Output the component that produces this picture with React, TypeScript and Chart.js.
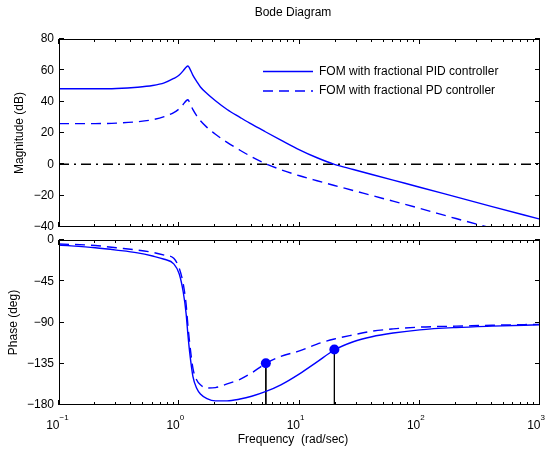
import React, { useEffect, useRef } from "react";
import { Chart, registerables } from "chart.js";

Chart.register(...registerables);

// ---------- data ----------
const freq = [0.1, 0.2, 0.3, 0.45, 0.6, 0.75, 0.9, 1.0, 1.08, 1.14, 1.18, 1.22, 1.3, 1.4, 1.5, 1.7, 2.0, 2.5, 3.2, 4, 5.2, 7, 10, 14, 19.5, 28, 40, 60, 100, 200, 400, 1000];
const pidMag = [48.2, 48.2, 48.4, 49.2, 50.3, 52.0, 54.8, 57.0, 59.8, 62.0, 62.8, 61.3, 56.8, 52.8, 49.4, 45.2, 40.6, 35.0, 30.0, 25.6, 20.8, 15.5, 9.3, 4.2, 0.0, -3.3, -6.5, -10.1, -14.6, -20.8, -27.0, -35.0];
const pdMag = [26.0, 26.0, 26.3, 27.2, 28.5, 30.5, 33.0, 35.5, 38.3, 40.5, 41.2, 39.5, 34.9, 30.9, 27.8, 23.6, 19.2, 14.0, 9.0, 4.8, 0.5, -3.4, -7.3, -10.5, -13.5, -16.7, -19.9, -23.5, -28.1, -34.6, -40.8, -49.0];
const pidPhase = [-5.5, -8.5, -11, -14, -17.5, -21, -26, -37, -57, -80, -103, -122, -149, -162, -168, -173, -175.5, -175.5, -173.5, -170.5, -165.5, -158, -146, -133, -120, -111, -105.5, -101.5, -98, -95.5, -94, -92.5];
const pdPhase = [-4.4, -6, -8.5, -11, -13.5, -16.5, -20, -31, -48, -70, -93, -112, -140, -153, -158, -161.5, -161, -157, -152, -145, -135, -127, -121, -113.5, -108, -103.5, -99.5, -97, -95, -94, -93, -92];

// gain crossover markers (PD, PID)
const crossFreq = [5.25, 19.5];
const crossPhase = [-134.5, -119.5];

const seriesLabels = ["FOM with fractional PID controller", "FOM with fractional PD controller"];
const magTicks = [-40, -20, 0, 20, 40, 60, 80];
const phaseTicks = [-180, -135, -90, -45, 0];
const decadeExps = [-1, 0, 1, 2, 3];
const freqRange = [0.1, 1000];
const magRefLevel = 0;
const phaseRefLevel = -180;

const chartTitle = "Bode Diagram";
const magTitle = "Magnitude (dB)";
const phaseTitle = "Phase (deg)";
const freqTitle = "Frequency  (rad/sec)";

// ---------- styles ----------
const FONT = '"Liberation Sans", Arial, Helvetica, sans-serif';
const BLUE = "#0000ff";
const DASH = [10, 6];
const DASHDOT = [10, 5, 2, 5];

const fmtTick = (v: number) => (v < 0 ? "\u2212" + Math.abs(v) : String(v));
const fmtExp = (e: number) => (e < 0 ? "\u2212" + Math.abs(e) : String(e));

function framePlugin(kind: "mag" | "phase") {
  return {
    id: "frame_" + kind,
    afterDatasetsDraw(chart: any) {
      const { ctx, chartArea } = chart;
      const { left, right, top, bottom } = chartArea;
      const xs = chart.scales.x;
      const ys = chart.scales.y;
      ctx.save();
      ctx.strokeStyle = "#000";
      ctx.lineWidth = 1;
      ctx.setLineDash([]);
      ctx.beginPath();
      // x ticks (major + minor), inward, top and bottom
      for (let i = 0; i < decadeExps.length; i++) {
        const base = Math.pow(10, decadeExps[i]);
        for (let j = 1; j <= 9; j++) {
          const v = base * j;
          if (v > freqRange[1] * 1.0001) break;
          const px = Math.round(xs.getPixelForValue(v)) - 0.5;
          const len = j === 1 ? 5 : 3;
          ctx.moveTo(px, top);
          ctx.lineTo(px, top + len);
          ctx.moveTo(px, bottom);
          ctx.lineTo(px, bottom - len);
        }
      }
      // y ticks inward, left and right
      ys.ticks.forEach((t: any) => {
        const py = Math.round(ys.getPixelForValue(t.value)) - 0.5;
        ctx.moveTo(left, py);
        ctx.lineTo(left + 5, py);
        ctx.moveTo(right, py);
        ctx.lineTo(right - 5, py);
      });
      ctx.stroke();
      ctx.strokeRect(Math.round(left) + 0.5, Math.round(top) + 0.5, Math.round(right - left) - 1, Math.round(bottom - top) - 1);

      ctx.fillStyle = "#000";
      if (kind === "mag") {
        // title
        ctx.font = `12px ${FONT}`;
        ctx.textAlign = "center";
        ctx.textBaseline = "middle";
        ctx.fillText(chartTitle, 293, 12.5);
        // legend
        const ds = chart.data.datasets;
        [0, 1].forEach((k) => {
          const d = ds[k];
          const y = top + 32.5 + k * 19.5;
          const x0 = left + 204;
          ctx.save();
          ctx.strokeStyle = d.borderColor;
          ctx.lineWidth = d.borderWidth;
          ctx.setLineDash(d.borderDash || []);
          ctx.beginPath();
          ctx.moveTo(x0, y);
          ctx.lineTo(x0 + 50, y);
          ctx.stroke();
          ctx.restore();
          ctx.font = `12px ${FONT}`;
          ctx.textAlign = "left";
          ctx.textBaseline = "middle";
          ctx.fillText(d.label, x0 + 56, y);
        });
      } else {
        // x tick labels 10^n
        decadeExps.forEach((e) => {
          const px = xs.getPixelForValue(Math.pow(10, e));
          ctx.textBaseline = "alphabetic";
          ctx.font = `12px ${FONT}`;
          ctx.textAlign = "right";
          ctx.fillText("10", px + 0.5, bottom + 23.5);
          ctx.font = `8px ${FONT}`;
          ctx.textAlign = "left";
          ctx.fillText(fmtExp(e), px + 0.5, bottom + 15);
        });
        ctx.font = `12px ${FONT}`;
        ctx.textAlign = "center";
        ctx.textBaseline = "middle";
        ctx.fillText(freqTitle, 293, bottom + 35);
      }
      ctx.restore();
    },
  };
}

function yScale(ticksArr: number[], title: string, titlePad: number) {
  return {
    type: "linear" as const,
    min: ticksArr[0],
    max: ticksArr[ticksArr.length - 1],
    afterBuildTicks: (s: any) => {
      s.ticks = ticksArr.map((v) => ({ value: v }));
    },
    afterFit: (s: any) => {
      s.width = 59;
    },
    grid: { display: false, drawTicks: false },
    border: { display: false },
    ticks: {
      padding: 5,
      color: "#000",
      font: { family: FONT, size: 12 },
      callback: (v: any) => fmtTick(Number(v)),
    },
    title: {
      display: true,
      text: title,
      color: "#000",
      font: { family: FONT, size: 12 },
      padding: { top: titlePad, bottom: 0 },
    },
  };
}

const xScale = {
  type: "logarithmic" as const,
  min: freqRange[0],
  max: freqRange[1],
  display: false,
};

const pts = (ys: number[]) => freq.map((f, i) => ({ x: f, y: ys[i] }));

export default function App() {
  const topRef = useRef<HTMLCanvasElement | null>(null);
  const botRef = useRef<HTMLCanvasElement | null>(null);

  useEffect(() => {
    const common = {
      responsive: false,
      animation: false as const,
      events: [] as any[],
      plugins: {
        legend: { display: false },
        title: { display: false },
        tooltip: { enabled: false },
      },
    };
    const lineDs = (label: string, data: any[], dash: number[]) => ({
      label,
      data,
      borderColor: BLUE,
      backgroundColor: BLUE,
      borderWidth: 1.4,
      borderDash: dash,
      pointRadius: 0,
      fill: false,
      cubicInterpolationMode: "monotone" as const,
    });
    const refLine = (level: number) => ({
      label: "",
      data: [
        { x: freqRange[0], y: level },
        { x: freqRange[1], y: level },
      ],
      borderColor: "#000",
      borderWidth: 1.5,
      borderDash: DASHDOT,
      pointRadius: 0,
      fill: false,
    });

    const top = new Chart(topRef.current!, {
      type: "line",
      data: {
        datasets: [
          lineDs(seriesLabels[0], pts(pidMag), []),
          lineDs(seriesLabels[1], pts(pdMag), DASH),
          refLine(magRefLevel),
        ],
      },
      options: {
        ...common,
        layout: { padding: { top: 39, left: 0, right: 7, bottom: 223 } },
        scales: { x: xScale, y: yScale(magTicks, magTitle, 12.8) },
      },
      plugins: [framePlugin("mag")],
    } as any);

    const stems = crossFreq.map((f, i) => ({
      label: "",
      data: [
        { x: f, y: crossPhase[i] },
        { x: f, y: phaseRefLevel },
      ],
      borderColor: "#000",
      borderWidth: 1,
      pointRadius: 0,
      fill: false,
    }));

    const bot = new Chart(botRef.current!, {
      type: "line",
      data: {
        datasets: [
          {
            label: "",
            data: crossFreq.map((f, i) => ({ x: f, y: crossPhase[i] })),
            showLine: false,
            pointRadius: 5,
            pointBorderWidth: 0,
            pointBackgroundColor: BLUE,
            borderColor: BLUE,
            backgroundColor: BLUE,
          },
          lineDs(seriesLabels[0], pts(pidPhase), []),
          lineDs(seriesLabels[1], pts(pdPhase), DASH),
          ...stems,
          refLine(phaseRefLevel),
        ],
      },
      options: {
        ...common,
        layout: { padding: { top: 240, left: 0, right: 7, bottom: 45 } },
        scales: { x: xScale, y: yScale(phaseTicks, phaseTitle, 6.3) },
      },
      plugins: [framePlugin("phase")],
    } as any);

    return () => {
      top.destroy();
      bot.destroy();
    };
  }, []);

  const cs: React.CSSProperties = { position: "absolute", left: 0, top: 0, width: 547, height: 450 };
  return (
    <div style={{ position: "absolute", left: 0, top: 0, width: 547, height: 450, background: "#fff" }}>
      <canvas ref={topRef} width={547} height={450} style={cs} />
      <canvas ref={botRef} width={547} height={450} style={cs} />
    </div>
  );
}
